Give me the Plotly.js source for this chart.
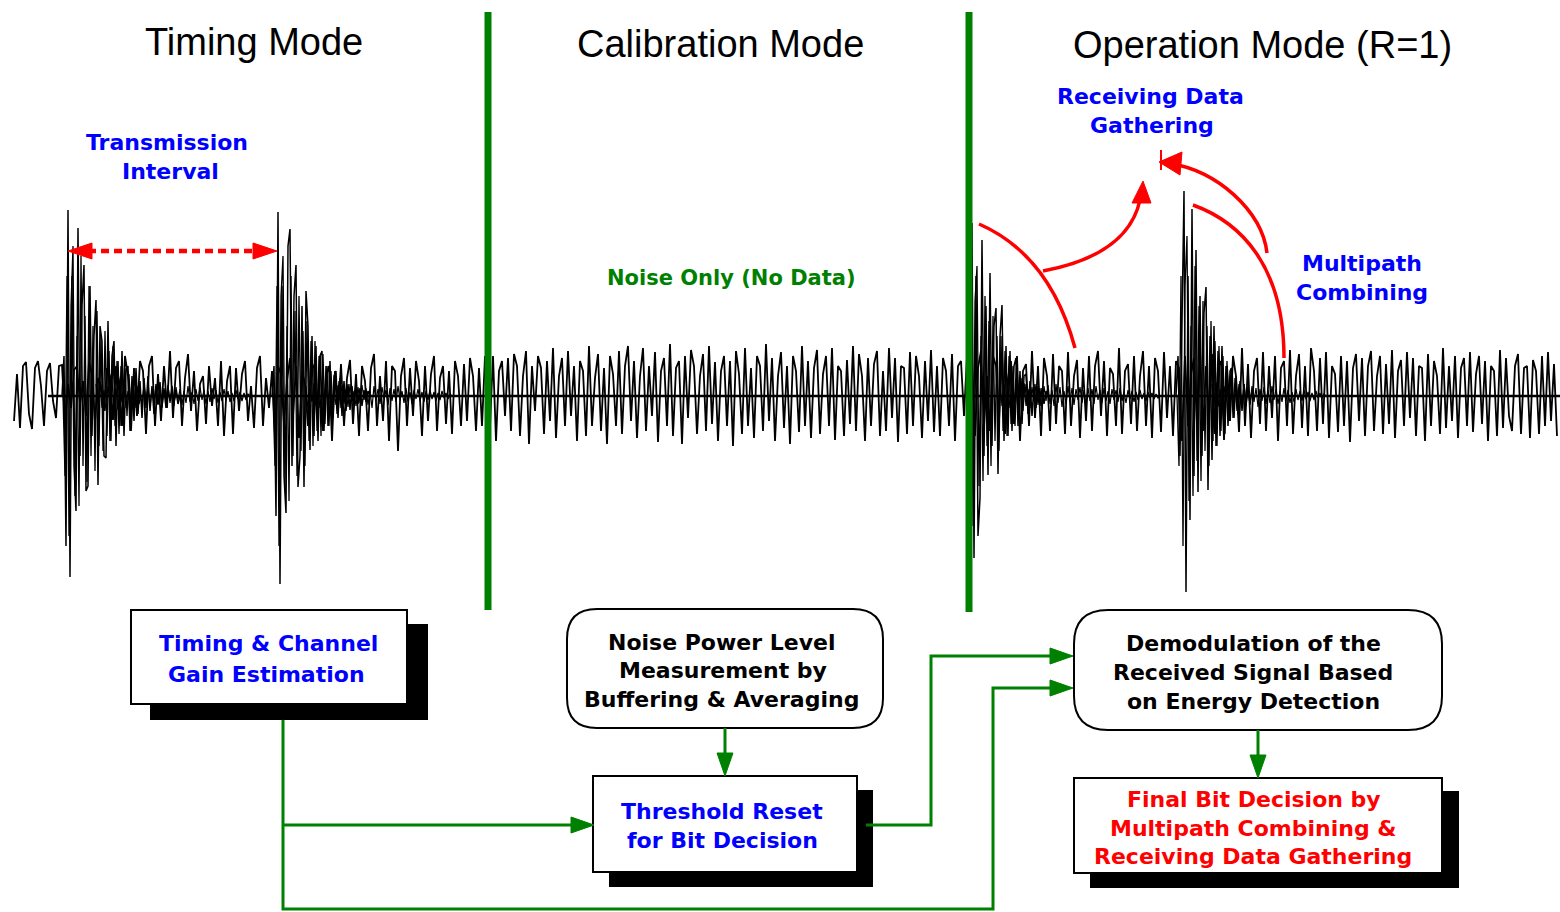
<!DOCTYPE html>
<html><head><meta charset="utf-8">
<script src="https://cdn.plot.ly/plotly-3.0.1.min.js"></script>
<style>html,body{margin:0;padding:0;background:#fff;}#chart{width:1560px;height:912px;}</style>
</head><body><div id="chart"></div>
<script>
// ---------- waveform data (amplitudes, pixels, + = up) ----------
const noiseStep = 3;
const timingNoiseStart = 14;
const timingNoise = [-25,22,-32,30,34,-18,-33,28,35,10,-30,25,33,-5,-22,30,31,-28,12,-12,
26,30,-8,15,-20,34,22,-26,18,10,-15,28,20,-24,30,16,-30,40,20,-35,
28,-20,35,25,-38,30,40,-30,22,-25,30,-12,45,-22,28,35,-30,18,42,-15,
25,-35,12,20,-28,30,-10,18,-30,35,-40,15,30,-38,28,-15,22,35,-25,10,
-32,28,40,-30,18,-12,25,-40,30,22,-28,15,38,-20,30,-42,25,12,-30,35,
28,-22,40,-35,20,30,-45,25,-15,32,-30,18,36,-28,22,-40,30,15,-35,28,
42,-30,20,-25,35,-45,30,25,-55,20,38,-30,28,-20,35,15,-40,30,-25,22,
40,-35,18,30,-28,25,-38,35,20,-30,32,-25,38,20,-35,28,-30,40];
const calibNoiseStart = 490;
const calibNoise = [-30,40,-45,25,35,-20,38,-35,42,30,-40,20,45,-48,30,-15,40,28,-38,35,
-25,48,-42,20,38,-30,45,-20,30,-45,35,25,-40,50,-30,18,42,-35,28,-48,
40,22,-30,45,-38,30,50,-25,35,-42,20,48,-35,30,-20,44,-46,25,38,-30,
52,-40,28,35,-48,40,-22,46,30,-38,20,42,-35,50,-28,34,-45,25,40,-30,
35,-50,45,22,-38,48,-30,28,-42,40,30,-35,52,-25,38,-45,20,44,-32,30,
-48,40,25,-36,50,-30,35,-42,28,46,-38,22,40,-30,48,-44,30,25,-40,36,
-28,50,-35,42,20,-45,38,-30,32,45,-40,25,-35,48,-22,38,-46,30,28,-38,
44,-30,40,20,-42,35,-25,46,-36,30,-40,38,25,-30,42,-45,30,35,-20,40];
const operNoiseStart = 972;
const operNoise = [35,-40,28,45,-30,20,-35,40,30,-25,42,-38,18,35,-28,40,-45,25,32,-30,
45,-22,30,-40,38,20,-35,42,-28,30,25,-38,44,-30,20,36,-42,28,-25,40,
-35,30,45,-20,35,-40,28,22,-30,48,-38,25,32,-28,40,-35,20,45,-30,30,
-42,38,25,-36,44,-22,30,-40,35,28,-45,40,-30,22,38,-28,46,-35,30,-20,
42,-38,28,35,-44,30,-25,40,20,-36,48,-30,32,-42,25,38,-28,44,-35,30,
-22,40,-45,28,35,-30,46,-38,20,42,-32,30,-40,48,25,-35,38,-28,44,-42,
30,22,-36,40,-30,35,-46,28,42,-25,38,-40,30,45,-35,20,40,-38,32,-28,
46,-42,25,36,-30,44,-22,38,-40,30,28,-45,42,-30,35,20,-38,48,-32,30,
-25,40,-42,28,38,-30,44,-36,22,40,-28,35,-45,30,25,-40,46,-32,38,-20,
-35,30,42,-38,28,30,-42,36,25,-38,40,-30,44,-25,32,-40];
const burstStep = 2;
const burstStarts = [62, 272, 966, 1176];
const burst1 = [0,40,-150,186,-181,120,-70,-115,168,-60,90,131,-95,-90,110,-40,60,96,-89,70,
55,-60,-62,75,-45,40,55,-50,35,-30,45,-40,25,30,-35,20,-25,28,-18,15,
-22,18,-12,20,-15,10,-18,12,-8,14,-10,6,-12,8,-5,10,-6,4,-8,0];
const burst2 = [0,30,-120,184,-188,110,-80,-117,150,167,-70,100,131,-91,-60,90,-91,105,70,-54,
60,-40,50,-45,40,45,-35,30,-30,35,-28,20,25,-22,18,-20,15,-15,12,-14,
10,-10,12,-8,8,-10,6,-6,5,0];
const burst3 = [0,40,90,173,-162,120,-140,-102,156,-60,90,-79,123,-50,70,88,-78,60,91,-45,
50,-40,45,-35,30,38,-30,25,-28,20,22,-18,15,-20,12,-12,10,-10,8,-8,5,0];
const burst4 = [0,40,-60,90,205,-196,120,-124,187,-80,146,-96,100,-60,83,109,-94,60,-64,70,
-50,45,-40,50,-35,30,-30,25,28,-22,20,-18,15,-15,12,-10,10,-8,6,0];
// second overlapping realisation of each burst
const burstBStarts = [63, 273, 967, 1177];
const burst1b = [0,-80,120,-140,90,150,-100,60,-110,140,-70,80,-86,110,-60,70,-75,85,-50,60,
-55,65,-40,45,-45,50,-30,35,-38,30,-25,28,-20,22,-18,15,-12,10,-8,0];
const burst2b = [0,-70,110,-150,100,140,-95,70,-105,120,-60,85,-80,100,-55,65,-70,75,-45,55,
-50,55,-35,40,-40,42,-28,30,-30,25,-22,20,-18,15,-12,10,-6,0];
const burst3b = [0,-60,110,-130,95,130,-90,60,-85,100,-50,75,-70,80,-45,60,-55,60,-35,45,
-40,40,-28,30,-30,25,-20,18,-15,12,-10,6,0];
const burst4b = [0,-70,120,-150,110,160,-105,70,-100,130,-65,90,-85,95,-55,70,-70,75,-45,55,
-50,50,-35,40,-38,35,-25,28,-22,18,-15,12,-8,0];
// small multipath echoes crowding the baseline after each burst
const tailStep = 2;
const tailStarts = [96, 306, 1000, 1212];
const tail1 = [12,-8,15,-12,6,-15,10,-5,14,-10,8,-14,12,-6,10,-12,5,-9,14,-7,
9,-12,6,-10,12,-4,8,-11,7,-6,10,-9,5,-12,8,-5,11,-7,6,-10,
9,-4,7,-9,5,-7,10,-6,4,-8,7,-5,9,-4,6,-8,5,-6,8,-3,
6,-7,4,-5,7,-4,5,-6,3,-5,6,-3,4,-5,3,-4,2,0];
const tail2 = [10,-14,8,-6,13,-10,5,-12,9,-7,12,-5,8,-13,6,-9,11,-4,10,-8,
7,-11,12,-6,5,-10,9,-7,11,-4,8,-9,6,-12,10,-5,7,-8,9,-3,
6,-9,8,-5,7,-6,10,-4,5,-7,8,-6,4,-8,6,-3,7,-5,4,-6,
5,-4,6,-3,4,-5,3,-4,5,-2,3,-3,2,0];
const tail3 = [14,-10,12,-16,8,-12,15,-6,10,-14,11,-8,13,-10,7,-12,9,-6,12,-9,
8,-13,10,-5,11,-8,6,-10,12,-7,9,-11,5,-8,10,-6,8,-9,7,-4,
9,-7,6,-10,8,-5,7,-8,10,-4,6,-7,8,-5,5,-8,7,-4,6,-6,
8,-5,4,-7,6,-3,5,-6,4,-4,6,-3,3,-5,4,-2,3,-3,2,-2,0];
const tail4 = [12,-9,14,-11,7,-13,10,-6,12,-8,9,-12,11,-5,8,-10,12,-7,6,-9,
10,-6,8,-11,7,-5,9,-8,6,-7,10,-4,7,-8,5,-6,8,-5,6,-7,
4,-6,7,-4,5,-5,6,-3,4,-5,3,-4,5,-2,3,-3,2,0];
const baselineX = [48, 1560];

// ---------- text ----------
const modeTitles = ["Timing Mode", "Calibration Mode", "Operation Mode (R=1)"];
const blueLabels = [["Transmission", "Interval"], ["Receiving Data", "Gathering"], ["Multipath", "Combining"]];
const greenLabel = "Noise Only (No Data)";
const box1Lines = ["Timing & Channel", "Gain Estimation"];
const noiseBoxLines = ["Noise Power Level", "Measurement by", "Buffering & Averaging"];
const thresholdLines = ["Threshold Reset", "for Bit Decision"];
const demodLines = ["Demodulation of the", "Received Signal Based", "on Energy Detection"];
const finalLines = ["Final Bit Decision by", "Multipath Combining &", "Receiving Data Gathering"];

// ---------- build ----------
const GREEN = "#008000", RED = "#ff0000", BLUE = "#0000ff";
function seq(start, step, arr) { return arr.map((_, i) => start + i * step); }
function wave(start, step, arr, w) {
  return {type: "scatter", mode: "lines", x: seq(start, step, arr), y: arr, yaxis: "y2",
    line: {color: "#000", width: w || 1.5}, hoverinfo: "skip", showlegend: false};
}
const traces = [
  wave(timingNoiseStart, noiseStep, timingNoise, 1.8),
  wave(calibNoiseStart, noiseStep, calibNoise, 1.8),
  wave(operNoiseStart, noiseStep, operNoise, 1.8),
  wave(tailStarts[0], tailStep, tail1, 1.2),
  wave(tailStarts[1], tailStep, tail2, 1.2),
  wave(tailStarts[2], tailStep, tail3, 1.2),
  wave(tailStarts[3], tailStep, tail4, 1.2),
  wave(burstBStarts[0], burstStep, burst1b, 1.3),
  wave(burstBStarts[1], burstStep, burst2b, 1.3),
  wave(burstBStarts[2], burstStep, burst3b, 1.3),
  wave(burstBStarts[3], burstStep, burst4b, 1.3),
  wave(burstStarts[0], burstStep, burst1, 1.5),
  wave(burstStarts[1], burstStep, burst2, 1.5),
  wave(burstStarts[2], burstStep, burst3, 1.5),
  wave(burstStarts[3], burstStep, burst4, 1.5),
  {type: "scatter", mode: "lines", x: baselineX, y: [0, 0], yaxis: "y2",
   line: {color: "#000", width: 2.6}, hoverinfo: "skip", showlegend: false}
];

function rrect(x0, y0, x1, y1, r) {
  return `M${x0+r},${y0} L${x1-r},${y0} Q${x1},${y0} ${x1},${y0+r} L${x1},${y1-r} Q${x1},${y1} ${x1-r},${y1} ` +
         `L${x0+r},${y1} Q${x0},${y1} ${x0},${y1-r} L${x0},${y0+r} Q${x0},${y0} ${x0+r},${y0} Z`;
}
const shapes = [];
function rect(x0, y0, x1, y1, fill, lw) {
  shapes.push({type: "rect", xref: "x", yref: "y", x0, y0, x1, y1, fillcolor: fill,
    line: {color: "#000", width: lw}, layer: "above"});
}
function path(p, color, w, fill, extra) {
  shapes.push(Object.assign({type: "path", xref: "x", yref: "y", path: p,
    line: {color: color, width: w}, fillcolor: fill || "rgba(0,0,0,0)", layer: "above"}, extra || {}));
}
// mode separators
path("M488,12 L488,610", GREEN, 7);
path("M969,12 L969,612", GREEN, 7);
// boxes
rect(150, 624, 428, 720, "#000", 0);
rect(131, 610, 407, 704, "#fff", 2);
path(rrect(567, 609, 883, 728, 30), "#000", 2, "#fff");
rect(609, 790, 873, 887, "#000", 0);
rect(593, 776, 857, 872, "#fff", 2);
path(rrect(1074, 610, 1442, 730, 34), "#000", 2, "#fff");
rect(1090, 791, 1459, 888, "#000", 0);
rect(1074, 778, 1442, 873, "#fff", 2);
// green connectors
path("M283,720 L283,909 L993,909 L993,688 L1054,688", GREEN, 3);
path("M283,825 L576,825", GREEN, 3);
path("M866,825 L931,825 L931,656 L1054,656", GREEN, 3);
path("M725,728 L725,756", GREEN, 3);
path("M1258,730 L1258,758", GREEN, 3);
path("M594,825 L571,817 L571,833 Z", GREEN, 1, GREEN);
path("M1073,656 L1050,648 L1050,664 Z", GREEN, 1, GREEN);
path("M1073,688 L1050,680 L1050,696 Z", GREEN, 1, GREEN);
path("M725,776 L717,753 L733,753 Z", GREEN, 1, GREEN);
path("M1258,778 L1250,755 L1266,755 Z", GREEN, 1, GREEN);
// red transmission interval arrow
path("M88,251 L258,251", RED, 4.5, null, {line: {color: RED, width: 4.5, dash: "8px,5px"}});
path("M68,251 L92,243 L92,259 Z", RED, 1, RED);
path("M277,251 L253,243 L253,259 Z", RED, 1, RED);
// red multipath curves
path("M979,224 Q1050,255 1075,348", RED, 3.5);
path("M1043,271 Q1128,255 1140,200", RED, 3.5);
path("M1143,181 L1132,203 L1151,203 Z", RED, 1, RED);
path("M1193,205 C1240,222 1284,265 1284,358", RED, 3.5);
path("M1267,253 C1262,210 1215,170 1172,164", RED, 3.5);
path("M1159,162 L1182,152 L1180,175 Z", RED, 1, RED);
path("M1161,150 L1161,170", RED, 2);

// annotations
const annotations = [];
function txt(x, y, text, size, color, bold, family) {
  annotations.push({x, y, xref: "x", yref: "y", text: bold ? "<b>" + text + "</b>" : text,
    showarrow: false, xanchor: "center", yanchor: "middle",
    font: {family: family || "DejaVu Sans", size, color}});
}
const SANS = "Liberation Sans";
txt(254, 42, modeTitles[0], 38, "#000", false, SANS);
txt(720, 44, modeTitles[1], 38, "#000", false, SANS);
txt(1262, 45, modeTitles[2], 38, "#000", false, SANS);
txt(167, 142, blueLabels[0][0], 22, BLUE, true);
txt(170, 171, blueLabels[0][1], 22, BLUE, true);
txt(1150, 96, blueLabels[1][0], 22, BLUE, true);
txt(1152, 125, blueLabels[1][1], 22, BLUE, true);
txt(1362, 263, blueLabels[2][0], 22, BLUE, true);
txt(1362, 292, blueLabels[2][1], 22, BLUE, true);
txt(731, 278, greenLabel, 21, GREEN, true);
txt(268, 643, box1Lines[0], 22, BLUE, true);
txt(266, 674, box1Lines[1], 22, BLUE, true);
txt(721, 642, noiseBoxLines[0], 22, "#000", true);
txt(723, 670, noiseBoxLines[1], 22, "#000", true);
txt(721, 699, noiseBoxLines[2], 22, "#000", true);
txt(722, 811, thresholdLines[0], 22, BLUE, true);
txt(722, 840, thresholdLines[1], 22, BLUE, true);
txt(1253, 643, demodLines[0], 22, "#000", true);
txt(1253, 672, demodLines[1], 22, "#000", true);
txt(1253, 701, demodLines[2], 22, "#000", true);
txt(1254, 799, finalLines[0], 22, RED, true);
txt(1253, 828, finalLines[1], 22, RED, true);
txt(1253, 856, finalLines[2], 22, RED, true);

const layout = {
  width: 1560, height: 912, margin: {l: 0, r: 0, t: 0, b: 0},
  paper_bgcolor: "#fff", plot_bgcolor: "#fff", showlegend: false,
  xaxis: {range: [0, 1560], visible: false, fixedrange: true},
  yaxis: {range: [912, 0], visible: false, fixedrange: true},
  yaxis2: {range: [-516, 396], overlaying: "y", visible: false, fixedrange: true},
  shapes, annotations
};
Plotly.newPlot("chart", traces, layout, {staticPlot: true, displayModeBar: false});
</script></body></html>
